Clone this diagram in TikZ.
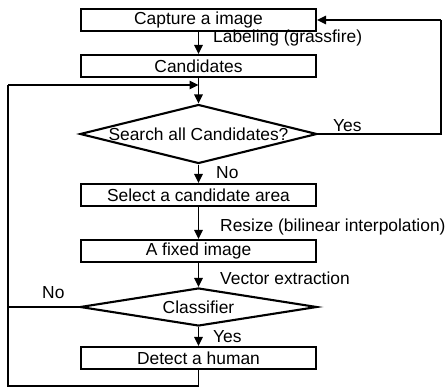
\documentclass[tikz,border=0pt]{standalone}
\usepackage{fontspec}
\setmainfont{Liberation Sans}
\usetikzlibrary{shapes.geometric,arrows.meta}
\begin{document}
\begin{tikzpicture}[x=1pt,y=-1pt,
  font=\fontsize{17.4}{19}\selectfont,
  box/.style={draw,line width=2.2pt,minimum width=235pt,minimum height=22pt,inner sep=0pt},
  dec/.style={draw,diamond,line width=2.1pt,inner sep=0pt,minimum width=237pt},
  conn/.style={line width=1.6pt},
  arr/.style={conn,-{Triangle[length=9pt,width=8.5pt]}},
  lab/.style={anchor=west,inner sep=0pt}]
\useasboundingbox (0,0) rectangle (447,387);

\node[box] (cap) at (198.5,20) {Capture a image};
\node[box] (cand) at (198.5,66) {Candidates};
\node[dec,minimum height=59pt,label={center:Search all Candidates?}] (search) at (198.5,134) {};
\node[box] (sel) at (198.5,195) {Select a candidate area};
\node[box] (fix) at (198.5,251) {A fixed image};
\node[dec,minimum height=38pt,label={center:Classifier}] (cls) at (198.5,307) {};
\node[box] (det) at (198.5,358) {Detect a human};

\coordinate (merge) at (198.5,85);
\coordinate (lt) at (8,85);
\coordinate (lb) at (8,386);
\coordinate (rt) at (441,20);
\coordinate (rb) at (441,134);

\draw[arr] (cap) -- (cand);
\draw[conn] (cand) -- (merge);
\draw[arr] (lt) -- (merge);
\draw[arr] (merge) -- (search.north);
\draw[conn] (search.east) -- (rb) -- (rt);
\draw[arr] (rt) -- (cap.east);
\draw[arr] (search) -- (sel);
\draw[arr] (sel) -- (fix);
\draw[arr] (fix) -- (cls.north);
\draw[arr] (cls) -- (det);
\draw[conn] (det.south) |- (lb) -- (lt);
\draw[conn] (cls.west) -- (cls.west -| lt);

\node[lab] (l1) at (213,38) {Labeling (grassfire)};
\node[lab] (y1) at (333,126) {Yes};
\node[lab] (n1) at (216,173) {No};
\node[lab] (l2) at (220,227) {Resize (bilinear interpolation)};
\node[lab] (l3) at (220,278) {Vector extraction};
\node[lab] (n2) at (42,293) {No};
\node[lab] (y2) at (213,337) {Yes};
\end{tikzpicture}
\end{document}
